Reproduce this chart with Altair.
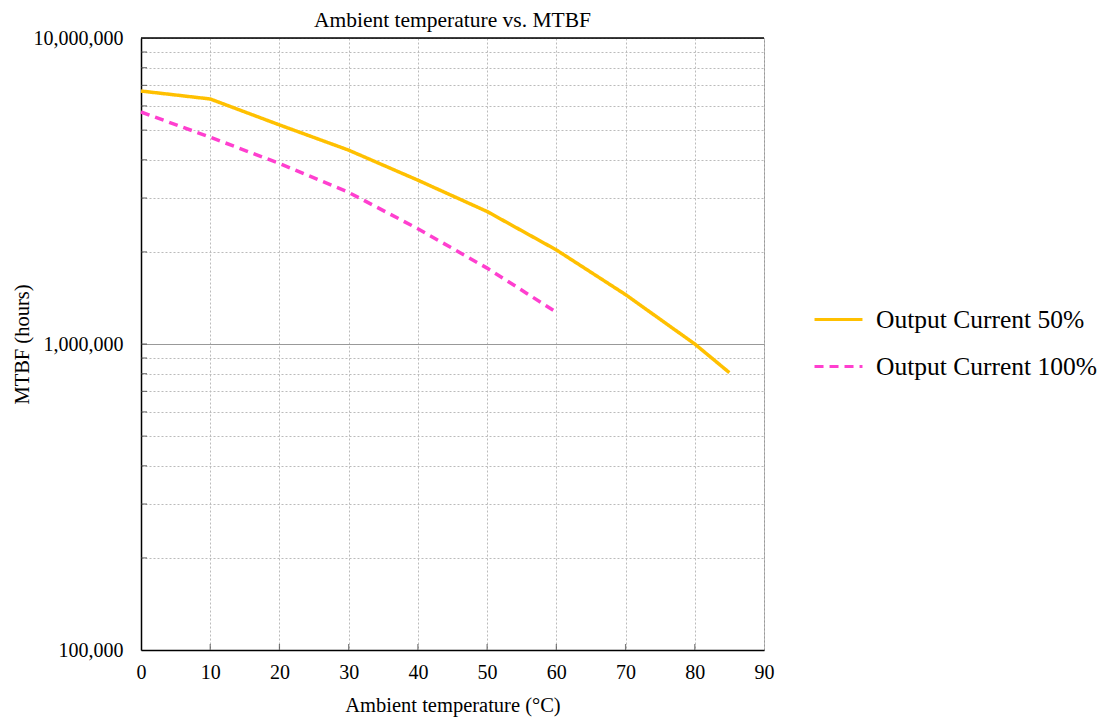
import altair as alt
import pandas as pd

temps_50 = [0, 10, 20, 30, 40, 50, 60, 70, 80, 85]
mtbf_50 = [6710000, 6320000, 5200000, 4300000, 3430000, 2710000, 2030000, 1450000, 1000000, 806000]
temps_100 = [0, 10, 20, 30, 40, 50, 60]
mtbf_100 = [5730000, 4740000, 3890000, 3130000, 2380000, 1770000, 1270000]
series = ["Output Current 50%", "Output Current 100%"]
x_ticks = [0, 10, 20, 30, 40, 50, 60, 70, 80, 90]
y_grid = [k * 10 ** e for e in (5, 6) for k in range(1, 10)] + [10 ** 7]

rows = [{"t": t, "m": m, "s": series[0]} for t, m in zip(temps_50, mtbf_50)]
rows += [{"t": t, "m": m, "s": series[1]} for t, m in zip(temps_100, mtbf_100)]
df = pd.DataFrame(rows)

FONT = "Liberation Serif"
W, H = 623, 612

leg = alt.Legend(title=None, orient="none", legendX=W + 49, legendY=256,
                 symbolType="stroke", symbolSize=2300, symbolStrokeWidth=3,
                 labelFont=FONT, labelFontSize=25.5, labelColor="black", labelLimit=0,
                 rowPadding=8, labelOffset=12)

xscale = alt.Scale(domain=[0, 90], nice=False)
yscale = alt.Scale(type="log", domain=[100000, 10000000], nice=False)

lines = alt.Chart(df).mark_line(strokeWidth=3.5).encode(
    x=alt.X("t:Q", scale=xscale,
            axis=alt.Axis(values=x_ticks, title="Ambient temperature (°C)", ticks=False,
                          labelPadding=12, titlePadding=13, grid=True, labelFlush=False,
                          gridDash=[2, 2], gridColor="#bbbbbb", domainColor="black",
                          domainWidth=1.5)),
    y=alt.Y("m:Q", scale=yscale,
            axis=alt.Axis(values=y_grid, title="MTBF (hours)", ticks=False,
                          labelPadding=18, titlePadding=1, labelFlush=False,
                          labelExpr="(datum.value == 100000 || datum.value == 1000000 || datum.value == 10000000) ? format(datum.value, ',') : ''",
                          gridDash={"condition": {"test": "datum.value == 1000000", "value": []}, "value": [2, 2]},
                          gridColor={"condition": {"test": "datum.value == 1000000", "value": "#999999"}, "value": "#bbbbbb"},
                          domainColor="black", domainWidth=1.5)),
    color=alt.Color("s:N", scale=alt.Scale(domain=series, range=["#FFC000", "#FF3FCF"]), legend=leg),
    strokeDash=alt.StrokeDash("s:N", scale=alt.Scale(domain=series, range=[[1, 0], [9, 6]]), legend=leg),
    detail="s:N",
)

ytick_df = pd.DataFrame({"m": y_grid[1:-1]})
yticks = alt.Chart(ytick_df).mark_tick(color="#444444", thickness=1.2).encode(
    y=alt.Y("m:Q", scale=yscale), x=alt.value(3), size=alt.value(6)
)
xtick_df = pd.DataFrame({"t": x_ticks[1:-1]})
xticks = alt.Chart(xtick_df).mark_tick(color="#444444", thickness=1.2).encode(
    x=alt.X("t:Q", scale=xscale), y=alt.value(H - 3), size=alt.value(6)
)

top_rule = alt.Chart(pd.DataFrame({"a": [0]})).mark_rule(color="black", strokeWidth=1.5).encode(
    x=alt.value(0), x2=alt.value(W), y=alt.value(0)
)

chart = alt.layer(lines, yticks, xticks, top_rule).properties(
    width=W, height=H,
    title=alt.Title("Ambient temperature vs. MTBF", font=FONT, fontSize=21.5, fontWeight="normal",
                    anchor="middle", frame="group", offset=-3, color="black"),
    autosize=alt.AutoSizeParams(type="none"),
    padding={"left": 133, "top": 30, "right": 340, "bottom": 68},
).configure_view(stroke="#999999", strokeWidth=1).configure_axis(
    labelFont=FONT, titleFont=FONT, labelFontSize=20, titleFontSize=20.5,
    titleFontWeight="normal", labelColor="black", titleColor="black"
)

chart.save("out.html", embed_options={"renderer": "svg", "actions": False})
